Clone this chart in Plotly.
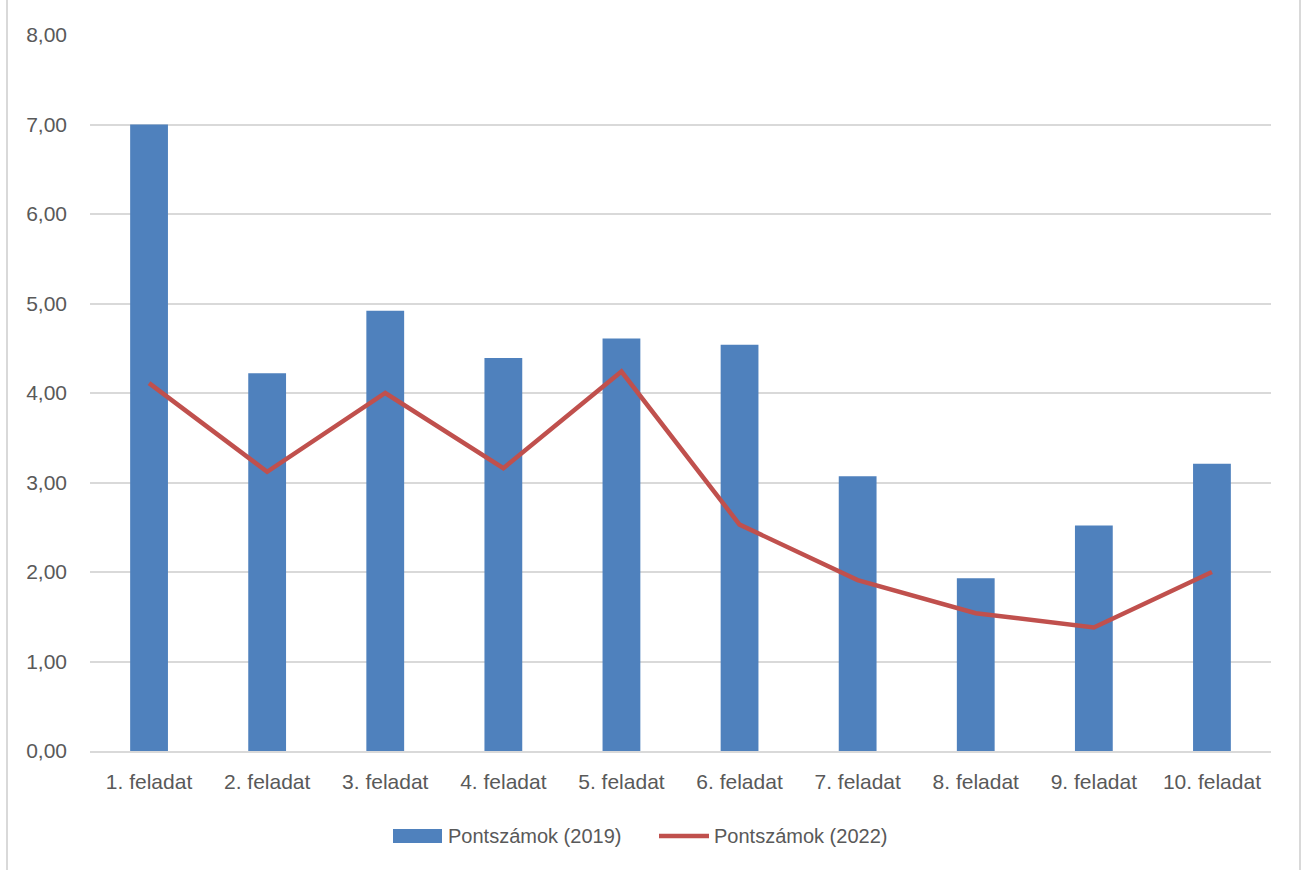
import plotly.graph_objects as go

categories = ["1. feladat", "2. feladat", "3. feladat", "4. feladat", "5. feladat",
              "6. feladat", "7. feladat", "8. feladat", "9. feladat", "10. feladat"]
scores_2019 = [7.00, 4.22, 4.92, 4.39, 4.61, 4.54, 3.07, 1.93, 2.52, 3.21]
scores_2022 = [4.11, 3.12, 4.00, 3.16, 4.24, 2.53, 1.91, 1.54, 1.38, 2.00]
series_names = ["Pontszámok (2019)", "Pontszámok (2022)"]

BLUE = "#4F81BD"
RED = "#C0504D"
GRID = "#D9D9D9"
TEXT = "#595959"
FONT = "Liberation Sans"

W, H = 1302, 870
L, R, T, B = 90, 31, 35, 119
pw = W - L - R
ph = H - T - B

def px_x(x):
    return (x - L) / pw

def px_y(y):
    return (H - B - y) / ph

fig = go.Figure()
fig.add_trace(go.Bar(x=categories, y=scores_2019, name=series_names[0],
                     marker=dict(color=BLUE, line=dict(width=0)), showlegend=False))
fig.add_trace(go.Scatter(x=categories, y=scores_2022, name=series_names[1], mode="lines",
                         line=dict(color=RED, width=4.5), showlegend=False))

shapes = [
    # chart border lines (left and right)
    dict(type="line", xref="paper", yref="paper", x0=px_x(7), x1=px_x(7), y0=px_y(0), y1=px_y(870),
         line=dict(color=GRID, width=2)),
    dict(type="line", xref="paper", yref="paper", x0=px_x(1300), x1=px_x(1300), y0=px_y(0), y1=px_y(870),
         line=dict(color=GRID, width=2)),
    # legend swatches
    dict(type="rect", xref="paper", yref="paper", x0=px_x(393), x1=px_x(442), y0=px_y(843), y1=px_y(829),
         fillcolor=BLUE, line=dict(width=0)),
    dict(type="line", xref="paper", yref="paper", x0=px_x(659), x1=px_x(709), y0=px_y(836), y1=px_y(836),
         line=dict(color=RED, width=4.5)),
]
annotations = [
    dict(xref="paper", yref="paper", x=px_x(446), y=px_y(836), text=series_names[0], showarrow=False,
         xanchor="left", yanchor="middle", font=dict(family=FONT, size=20, color=TEXT)),
    dict(xref="paper", yref="paper", x=px_x(712), y=px_y(836), text=series_names[1], showarrow=False,
         xanchor="left", yanchor="middle", font=dict(family=FONT, size=20, color=TEXT)),
]

fig.update_layout(
    width=W, height=H,
    margin=dict(l=L, r=R, t=T, b=B),
    paper_bgcolor="white", plot_bgcolor="white",
    separators=", ",
    bargap=0.68,
    font=dict(family=FONT, size=21, color=TEXT),
    shapes=shapes, annotations=annotations,
    showlegend=False,
)
fig.update_xaxes(showgrid=False, showline=True, linecolor=GRID, linewidth=2,
                 ticks="", ticklabelstandoff=11, tickfont=dict(family=FONT, size=21, color=TEXT))
fig.update_yaxes(range=[0, 8], dtick=1, tickformat=".2f", showgrid=True, gridcolor=GRID, gridwidth=2,
                 zeroline=False, showline=False, ticks="", ticklabelstandoff=22,
                 tickfont=dict(family=FONT, size=21, color=TEXT))

fig.write_html("out.html")
